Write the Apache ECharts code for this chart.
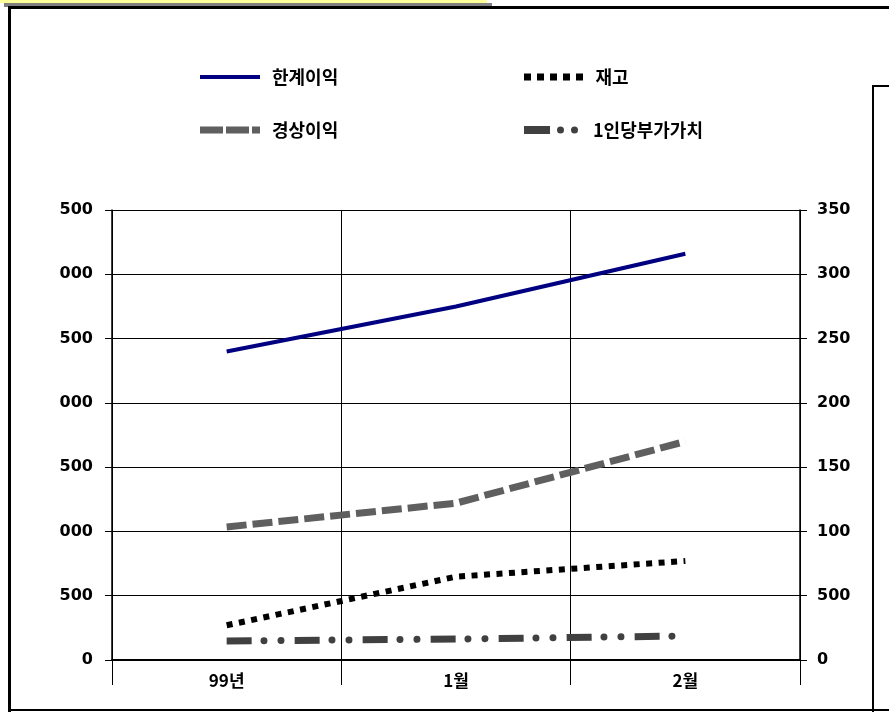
<!DOCTYPE html>
<html>
<head>
<meta charset="utf-8">
<script src="https://cdn.jsdelivr.net/npm/echarts@6/dist/echarts.min.js"></script>
<style>
  html, body { margin: 0; padding: 0; background: #fff; }
  #main { width: 889px; height: 712px; }
</style>
</head>
<body>
<div id="main"></div>
<script>
// data
var months = ['99년', '1월', '2월'];
var marginProfit = [2400, 2750, 3160];   // 한계이익 (left axis)
var ordinaryProfit = [1035, 1220, 1700]; // 경상이익 (left axis)
var stock = [270, 648, 770];             // 재고 (left axis)
var valuePerHead = [14.8, 16.3, 18.7];   // 1인당부가가치 (right axis)
var leftTickLabels = ['0', '500', '000', '500', '000', '500', '000', '500'];
var rightTickLabels = ['0', '500', '100', '150', '200', '250', '300', '350'];

var chart = echarts.init(document.getElementById('main'), null, { renderer: 'canvas' });

var krFont = '"Noto Sans CJK KR", sans-serif';
var numFont = '"DejaVu Sans", sans-serif';

// legend icons drawn as paths so they look like the old-style swatches
var icons = {
  solid: 'path://M0,0h60v4h-60z',
  dash: 'path://M0,0h23v7h-23z M26,0h23v7h-23z M52,0h8v7h-8z',
  dot: 'path://M0,0h7v7h-7z M13,0h7v7h-7z M26,0h7v7h-7z M39,0h7v7h-7z M52,0h7v7h-7z',
  dashDot: 'path://M0,0h26v8h-26z M33,4a3.5,3.5 0 1,0 7,0a3.5,3.5 0 1,0 -7,0z M47,4a3.5,3.5 0 1,0 7,0a3.5,3.5 0 1,0 -7,0z'
};

function legendItem(name, icon, h, left, top) {
  return {
    orient: 'vertical',
    left: left, top: top,
    padding: 0,
    itemWidth: 60, itemHeight: h,
    selectedMode: false,
    textStyle: {
      fontFamily: krFont, fontWeight: 'bold', fontSize: 18, color: '#000',
      lineHeight: 20, padding: [0, 0, 0, 7]
    },
    data: [{ name: name, icon: icon }]
  };
}

var option = {
  backgroundColor: '#fff',
  animation: false,
  grid: { left: 112, right: 89, top: 210, bottom: 52 },
  legend: [
    legendItem('한계이익', icons.solid, 4, 200, 67),
    legendItem('경상이익', icons.dash, 7, 200, 120),
    legendItem('재고', icons.dot, 7, 524, 67),
    legendItem('1인당부가가치', icons.dashDot, 8, 524, 120)
  ],
  xAxis: {
    type: 'category',
    data: months,
    boundaryGap: true,
    axisLine: { show: true, lineStyle: { color: '#000', width: 2 } },
    axisTick: { show: true, length: 25, interval: 0, lineStyle: { color: '#000', width: 1 } },
    splitLine: { show: true, interval: 0, lineStyle: { color: '#000', width: 1 } },
    axisLabel: { margin: 12, color: '#000', fontFamily: krFont, fontWeight: 'bold', fontSize: 17 }
  },
  yAxis: [
    {
      type: 'value', min: 0, max: 3500, interval: 500,
      axisLine: { show: true, lineStyle: { color: '#000', width: 1.5 } },
      axisTick: { show: true, length: 7, lineStyle: { color: '#000' } },
      splitLine: { show: true, lineStyle: { color: '#000', width: 1 } },
      axisLabel: {
        margin: 19, color: '#000', fontFamily: numFont, fontWeight: 'bold', fontSize: 16,
        formatter: function (v) { return leftTickLabels[Math.round(v / 500)]; }
      }
    },
    {
      type: 'value', position: 'right', min: 0, max: 350, interval: 50,
      axisLine: { show: true, lineStyle: { color: '#000', width: 1.5 } },
      axisTick: { show: true, length: 7, lineStyle: { color: '#000' } },
      splitLine: { show: false },
      axisLabel: {
        margin: 17, color: '#000', fontFamily: numFont, fontWeight: 'bold', fontSize: 16,
        formatter: function (v) { return rightTickLabels[Math.round(v / 50)]; }
      }
    }
  ],
  series: [
    {
      name: '한계이익', type: 'line', data: marginProfit, symbol: 'none',
      color: '#000080',
      lineStyle: { color: '#000080', width: 4 }
    },
    {
      name: '경상이익', type: 'line', data: ordinaryProfit, symbol: 'none',
      color: '#5f5f5f',
      lineStyle: { color: '#5f5f5f', width: 7, type: [20, 6], cap: 'butt' }
    },
    {
      name: '재고', type: 'line', data: stock, symbol: 'none',
      color: '#000',
      lineStyle: { color: '#000', width: 6, type: [6, 6.5], cap: 'butt' }
    },
    {
      name: '1인당부가가치', type: 'line', yAxisIndex: 1, data: valuePerHead, symbol: 'none',
      color: '#404040',
      lineStyle: { color: '#404040', width: 7, type: [25, 43], cap: 'butt' }
    },
    {
      // the dots of the dash-dot-dot line
      name: '', type: 'line', yAxisIndex: 1, data: valuePerHead, symbol: 'none',
      color: '#404040', silent: true,
      lineStyle: { color: '#404040', width: 7, type: [0.01, 17, 0.01, 50.98], dashOffset: 30.7, cap: 'round' }
    }
  ],
  graphic: [
    // yellow title strip at the top edge
    { type: 'rect', shape: { x: 4, y: 3, width: 488, height: 4 }, style: { fill: '#808080' } },
    { type: 'rect', shape: { x: 0, y: 0, width: 487, height: 3 }, style: { fill: '#ffff99' } },
    // outer frame
    { type: 'rect', shape: { x: 8, y: 6, width: 881, height: 3 }, style: { fill: '#000' } },
    { type: 'rect', shape: { x: 8, y: 6, width: 3, height: 706 }, style: { fill: '#000' } },
    { type: 'rect', shape: { x: 8, y: 709, width: 881, height: 2 }, style: { fill: '#000' } },
    // box at the right edge
    { type: 'rect', shape: { x: 872, y: 85, width: 17, height: 2 }, style: { fill: '#000' } },
    { type: 'rect', shape: { x: 872, y: 85, width: 2, height: 627 }, style: { fill: '#000' } }
  ]
};

chart.setOption(option);
</script>
</body>
</html>
